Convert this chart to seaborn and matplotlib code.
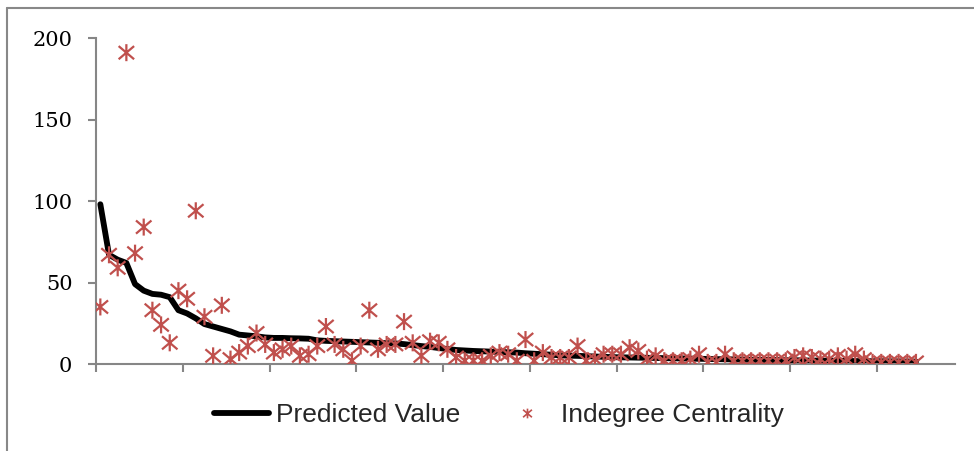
import numpy as np
import pandas as pd
import matplotlib
matplotlib.use('Agg')
import matplotlib.pyplot as plt
from matplotlib.path import Path
from matplotlib.lines import Line2D
import seaborn as sns

# values (95 nodes, sorted by predicted value)
predicted = [98, 67, 64, 62, 49, 45, 43, 42.5, 41, 33,
             31, 28, 24.5, 23, 21.5, 20, 18, 17.5, 17, 16.3,
             16, 16, 15.8, 15.7, 15.5, 14.5, 14.2, 14, 13.8, 13.6,
             13.4, 13.2, 13, 12.8, 12.6, 12.2, 11.6, 11, 10.5, 9.8,
             9.2, 8.6, 8.3, 8, 7.8, 7.6, 7.4, 7.2, 7, 6.6,
             6.3, 6, 5.7, 5.3, 5.1, 5, 4.8, 4.6, 4.4, 4.2,
             4.1, 4, 3.9, 3.8, 3.7, 3.6, 3.5, 3.4, 3.3, 3.2,
             3.1, 3, 2.9, 2.8, 2.7, 2.6, 2.5, 2.5, 2.4, 2.3,
             2.3, 2.2, 2.1, 2.1, 2, 2, 1.9, 1.8, 1.8, 1.7,
             1.7, 1.6, 1.6, 1.5, 1.5]
indegree = [35, 67, 59, 191, 68, 84, 33, 24, 13, 45,
            40, 94, 29, 5, 36, 3, 7, 11, 19, 12,
            7, 9, 11, 5, 6, 11, 23, 12, 9, 2,
            11, 33, 9, 12, 12, 26, 13, 5, 14, 13,
            9, 4, 2, 2, 2, 5, 7, 6, 2, 15,
            2, 7, 4, 4, 4, 11, 2, 3, 6, 6,
            6, 10, 8, 3, 5, 2, 2, 2, 3, 6,
            1, 1, 6, 2, 2, 2, 2, 2, 2, 2,
            4, 5, 4, 3, 3, 5, 3, 6, 3, 1,
            1, 1, 1, 1, 1]
y_ticks = [0, 50, 100, 150, 200]
n_categories = 99

df = pd.DataFrame({'node': np.arange(len(predicted)),
                   'Predicted Value': predicted,
                   'Indegree Centrality': indegree})

sns.set_style('white')
plt.rcParams['font.family'] = ['Liberation Sans', 'DejaVu Sans']

# Excel-like star marker: X with a vertical bar
star = Path([(-1, -0.85), (1, 0.85), (-1, 0.85), (1, -0.85), (0, -1.1), (0, 1.1)],
            [Path.MOVETO, Path.LINETO, Path.MOVETO, Path.LINETO, Path.MOVETO, Path.LINETO])

fig = plt.figure(figsize=(9.74, 4.51), dpi=100)
ax = fig.add_axes([96 / 974, 87 / 451, (955 - 96) / 974, (364 - 38) / 451])

red = '#C0504D'
sns.lineplot(data=df, x='node', y='Predicted Value', ax=ax, color='black',
             linewidth=4.2, label='Predicted Value',
             solid_joinstyle='round', solid_capstyle='round')
sns.scatterplot(data=df, x='node', y='Indegree Centrality', ax=ax, marker=star,
                s=150, facecolor='none', edgecolor=red, color=red, linewidth=1.6,
                label='Indegree Centrality', zorder=3)

ax.set_xlim(-0.5, n_categories - 0.5)
ax.set_ylim(0, 200)
ax.set_xticks(np.arange(-0.5, 90, 10))
ax.set_xticklabels([])
ax.set_yticks(y_ticks)
ax.set_yticklabels([str(v) for v in y_ticks], family='DejaVu Serif', fontsize=15)
ax.set_xlabel('')
ax.set_ylabel('')

axis_grey = '#868686'
for side in ['top', 'right']:
    ax.spines[side].set_visible(False)
for side in ['left', 'bottom']:
    ax.spines[side].set_color(axis_grey)
    ax.spines[side].set_linewidth(1.5)
ax.tick_params(axis='both', which='both', direction='out', length=6,
               width=1.5, color=axis_grey, left=True, bottom=True)
ax.tick_params(axis='y', pad=11, labelcolor='black')

handles = [Line2D([], [], color='black', linewidth=4.2, solid_capstyle='round'),
           Line2D([], [], color=red, marker=star, linestyle='none', markersize=7,
                  markeredgewidth=1.2)]
ax.legend(handles, ['Predicted Value', 'Indegree Centrality'], loc='center',
          bbox_to_anchor=(499 / 974, 1 - 415 / 451), bbox_transform=fig.transFigure,
          ncol=2, frameon=False, fontsize=19, handlelength=2.1, handletextpad=0.25,
          columnspacing=1.5)

# chart area border (only top and left are visible in the crop)
fig.add_artist(Line2D([7 / 974, 1], [1 - 8 / 451, 1 - 8 / 451], color='#888888', linewidth=1.5))
fig.add_artist(Line2D([7 / 974, 7 / 974], [0, 1 - 8 / 451], color='#888888', linewidth=1.5))

fig.savefig('out.png', dpi=100)
